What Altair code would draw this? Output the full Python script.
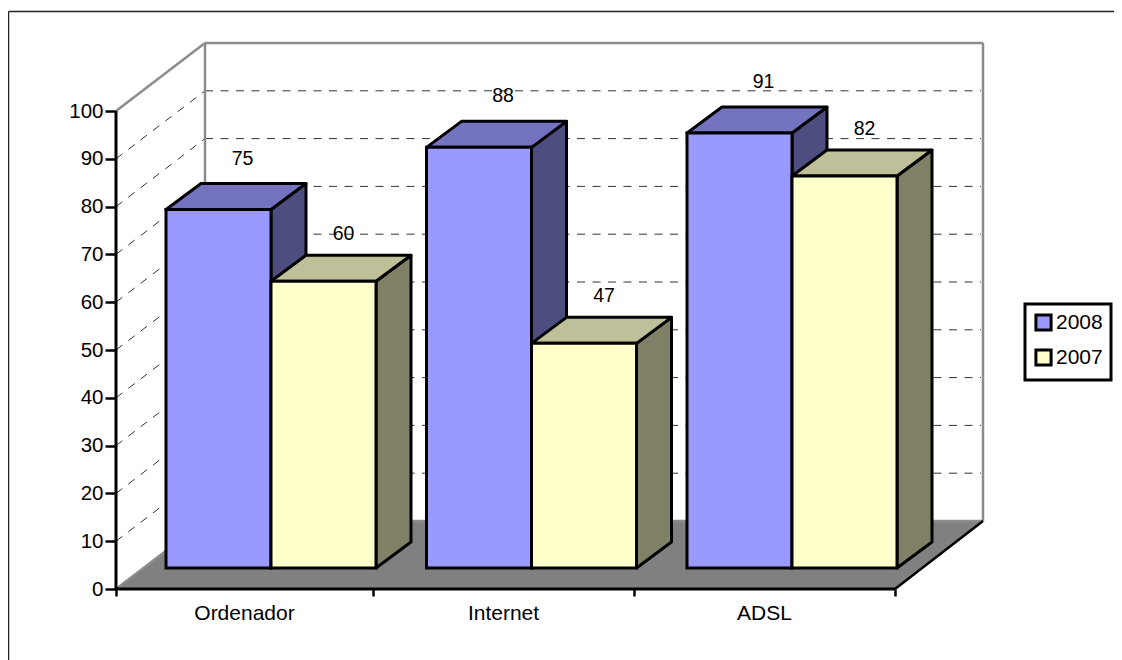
import altair as alt
import pandas as pd

categories = ["Ordenador", "Internet", "ADSL"]
series_names = ["2008", "2007"]
values_2008 = [75, 88, 91]
values_2007 = [60, 47, 82]
y_ticks = [0, 10, 20, 30, 40, 50, 60, 70, 80, 90, 100]

# layout: horizontal layout units equal screen px from the value axis; vertical in value units
PX = 4.78                 # px per value unit
W, H = 867, 545
YMAX = H / PX
GROUP0, GROUP_STEP, BAR_W = 50, 260.5, 105
DX, DY = 35, 26 / PX       # depth of a bar
BASE = 21 / PX             # lift of bar bases above the front floor edge
WALL_X, WALL_Y = 89, 68 / PX
FLOOR_W = 779
AXIS_TICKS = [0, 257, 518, 779]
LABEL_DX = {"2008": 24, "2007": 20}
LABEL_DY = {"2008": 51, "2007": 47}

FRONT = {"2008": "#9999FF", "2007": "#FFFFCC"}
TOP = {"2008": "#7373BF", "2007": "#BFBF99"}
SIDE = {"2008": "#4D4D80", "2007": "#808066"}

xs = alt.Scale(domain=[0, W], range=[0, W], nice=False, zero=False)
ys = alt.Scale(domain=[0, YMAX], range=[H, 0], nice=False, zero=False)
x_axis = alt.Axis(values=AXIS_TICKS, labels=False, domain=False, grid=False, title=None,
                  tickSize=7, tickWidth=2.5, tickColor="black")
y_axis = alt.Axis(values=y_ticks, domain=False, grid=False, title=None, tickSize=11, tickWidth=2.5,
                  tickColor="black", labelFontSize=20.5, labelPadding=2,
                  labelFont="Liberation Sans", labelColor="black")
X = alt.X("x:Q", scale=xs, axis=x_axis)
Y = alt.Y("y:Q", scale=ys, axis=y_axis)


def segs(rows):
    return pd.DataFrame(rows, columns=["x", "y", "x2", "y2"])


def rule(rows, **kw):
    return alt.Chart(segs(rows)).mark_rule(**kw).encode(X, Y, x2="x2:Q", y2="y2:Q")


def area(rows, **kw):
    df = pd.DataFrame(rows, columns=["id", "x", "y", "y2"])
    return alt.Chart(df).mark_area(**kw).encode(X, Y, y2="y2:Q", detail="id:N")


layers = []

# outer frame
L = -107.5
T = (545 + 32.5) / PX
layers.append(rule([(L, T, L, -80 / PX), (L, T, 1200, T)], color="#222", strokeWidth=1.5))

# walls
layers.append(area([("w", WALL_X, WALL_Y, YMAX), ("w", W, WALL_Y, YMAX)], color="white"))

# floor
layers.append(area([("f", 0, 0, 0), ("f", WALL_X, 0, WALL_Y), ("f", FLOOR_W, 0, WALL_Y), ("f", W, WALL_Y, WALL_Y)],
                   color="#808080"))

# gridlines
grid_back = [(WALL_X, v + WALL_Y, W - 2, v + WALL_Y) for v in y_ticks[1:-1]]
grid_left = [(0, v, WALL_X, v + WALL_Y) for v in y_ticks[1:-1]]
layers.append(rule(grid_back, color="#333", strokeWidth=1, strokeDash=[8, 7.5]))
layers.append(rule(grid_left, color="#333", strokeWidth=1, strokeDash=[8, 7.5]))

# wall edges
layers.append(rule([(WALL_X, WALL_Y, WALL_X, 100 + WALL_Y), (WALL_X, 100 + WALL_Y, W, 100 + WALL_Y),
                    (W, WALL_Y, W, 100 + WALL_Y), (0, 100, WALL_X, 100 + WALL_Y), (0, 0, WALL_X, WALL_Y),
                    (WALL_X, WALL_Y, W, WALL_Y)], color="#8c8c8c", strokeWidth=2.5))
layers.append(rule([(FLOOR_W, 0, W, WALL_Y)], color="black", strokeWidth=2.5))

# bars, drawn series by series
frames = []
for s, (name, vals) in enumerate(zip(series_names, [values_2008, values_2007])):
    side_rows, top_rows, front_rows = [], [], []
    for g, (cat, v) in enumerate(zip(categories, vals)):
        x0 = GROUP0 + g * GROUP_STEP + s * BAR_W
        x1 = x0 + BAR_W
        t = v + BASE
        key = f"{cat}-{name}"
        side_rows += [(key, x1, BASE, t), (key, x1 + DX, BASE + DY, t + DY)]
        top_rows += [(key, x0, t, t), (key, x0 + DX, t, t + DY), (key, x1, t, t + DY), (key, x1 + DX, t + DY, t + DY)]
        front_rows.append({"x": x0, "x2": x1, "y": t, "y2": BASE, "series": name})
    layers.append(area(side_rows, color=SIDE[name], stroke="black", strokeWidth=3, strokeJoin="round"))
    layers.append(area(top_rows, color=TOP[name], stroke="black", strokeWidth=3, strokeJoin="round"))
    frames += front_rows

# front faces carry the legend
front_df = pd.DataFrame(frames)
color = alt.Color("series:N", scale=alt.Scale(domain=series_names, range=[FRONT[n] for n in series_names]),
                  title=None,
                  legend=alt.Legend(orient="none", legendX=909, legendY=260, strokeColor="black", padding=8,
                                    symbolType="square", symbolSize=230, symbolStrokeColor="black",
                                    symbolStrokeWidth=3, labelFontSize=21, labelFont="Liberation Sans",
                                    labelColor="black", labelOffset=2, rowPadding=6))
bars = alt.Chart(front_df).mark_rect(stroke="black", strokeWidth=3).encode(X, Y, x2="x2:Q", y2="y2:Q", color=color)
layers.append(bars)

# value labels
lab = []
for s, (name, vals) in enumerate(zip(series_names, [values_2008, values_2007])):
    for g, v in enumerate(vals):
        lab.append({"x": GROUP0 + g * GROUP_STEP + (s + 0.5) * BAR_W + LABEL_DX[name],
                    "y": v + BASE + LABEL_DY[name] / PX, "t": str(v)})
layers.append(alt.Chart(pd.DataFrame(lab)).mark_text(fontSize=19.5, font="Liberation Sans", color="black").encode(
    X, Y, text="t:N"))

# category labels
cat_df = pd.DataFrame({"x": [(AXIS_TICKS[i] + AXIS_TICKS[i + 1]) / 2 for i in range(3)],
                       "y": [-25 / PX] * 3, "t": categories})
layers.append(alt.Chart(cat_df).mark_text(fontSize=21, font="Liberation Sans", color="black").encode(
    X, Y, text="t:N"))

# axis lines
layers.append(rule([(0, 0, 0, 100), (0, 0, FLOOR_W, 0)], color="black", strokeWidth=3))

chart = alt.layer(*layers).properties(
    width=W, height=H,
    autosize=alt.AutoSizeParams(type="none"),
    padding={"left": 108, "top": 36, "right": 131, "bottom": 71},
    background="white",
).configure_view(stroke=None).configure_legend(strokeWidth=3)

chart.save("out.html", embed_options={"renderer": "svg", "actions": False})
